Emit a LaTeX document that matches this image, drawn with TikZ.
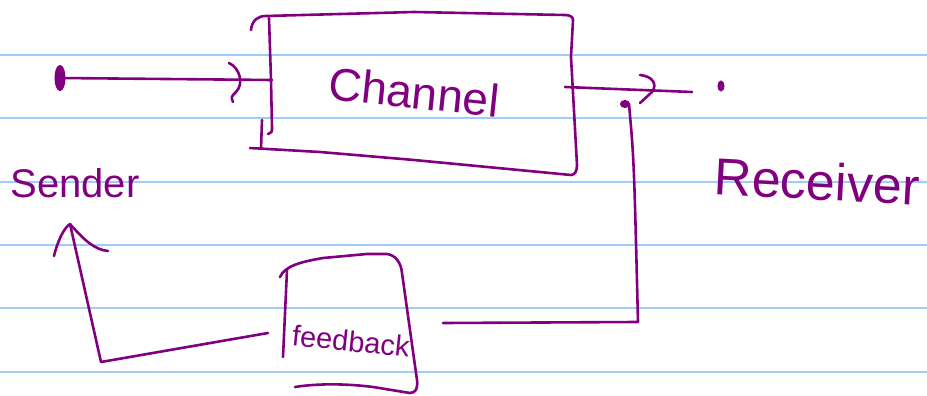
\documentclass[tikz,border=0pt]{standalone}
\usepackage{fontspec}
\setmainfont{Liberation Sans}
\usetikzlibrary{shapes.geometric}
\definecolor{ink}{RGB}{128,0,128}
\definecolor{rulecol}{RGB}{160,204,252}
\begin{document}
\begin{tikzpicture}[x=1pt,y=-1pt,
  ink/.style={draw=ink, line width=2.6pt, line cap=round, line join=round},
  rule/.style={draw=rulecol, line width=1.8pt},
  hand/.style={text=ink, inner sep=0pt},
  inkdot/.style={ellipse, fill=ink, draw=ink, line width=1pt, inner sep=0pt}]
\useasboundingbox[fill=white] (0,0) rectangle (927,396);
\foreach \y in {55,118.3,181.7,245,308.3,371.7} \draw[rule] (0,\y) -- (927,\y);

% Channel box
\draw[ink] (251,30) .. controls (252,20) and (258,16) .. (266,16) -- (414,12) -- (565,15)
  .. controls (570,15) and (573,17) .. (573,20) -- (571,57) -- (577,165)
  .. controls (577,171) and (575,175) .. (571,175) -- (414,160) -- (320,152) -- (250,148);
\draw[ink] (269,18) -- (271,80) -- (272,128) .. controls (272,132) .. (268,134);
\draw[ink] (262,120) -- (261,149);
\node[hand, rotate=-6, font=\fontsize{46}{46}\selectfont] (channel) at (414,92) {Channel};

% Sender side input
\node[inkdot, minimum width=10pt, minimum height=25pt] (sdot) at (60,78) {};
\coordinate (chin) at (272,80);
\draw[ink] (sdot) -- (chin);
\draw[ink] (229,63) .. controls (240,68) and (244,84) .. (236,92) .. controls (231,97) .. (233,102);

% Output
\coordinate (chout) at (565,87);
\coordinate (outend) at (692,92);
\draw[ink] (chout) -- (outend);
\draw[ink] (640,75) .. controls (652,76) and (658,84) .. (652,92) -- (640,103);
\node[inkdot, minimum width=6pt, minimum height=10pt] (rdot) at (721,86) {};
\node[hand, rotate=-3, font=\fontsize{52}{52}\selectfont] (receiver) at (817,181) {Receiver};

% Feedback loop from receiver
\node[inkdot, minimum width=9pt, minimum height=7pt] (tap) at (625,104) {};
\coordinate (fbcorner) at (638,322);
\coordinate (fbin) at (443,323);
\draw[ink] ([xshift=4pt]tap.center) .. controls (634,160) .. (fbcorner) -- (fbin);

% Feedback box
\draw[ink] (280,277) .. controls (285,266) and (300,262) .. (323,258) -- (367,254) -- (387,254)
  .. controls (395,255) and (401,262) .. (402,273) -- (417,380)
  .. controls (418,388) and (416,393) .. (410,393);
\draw[ink] (295,387) .. controls (320,383) and (350,384) .. (373,387) -- (410,393);
\draw[ink] (287,270) -- (283,357);
\node[hand, rotate=-6, font=\fontsize{29}{29}\selectfont] (fbtext) at (351,341) {feedback};

% Feedback to sender
\coordinate (fbout) at (268,333);
\coordinate (corner2) at (101,362);
\coordinate (stip) at (70,224);
\draw[ink] (fbout) -- (corner2) -- (stip);
\draw[ink] (54,256) .. controls (58,240) and (64,228) .. (stip) .. controls (84,240) and (95,250) .. (108,251);
\node[hand, font=\fontsize{40}{40}\selectfont] (sender) at (75,183) {Sender};
\end{tikzpicture}
\end{document}
